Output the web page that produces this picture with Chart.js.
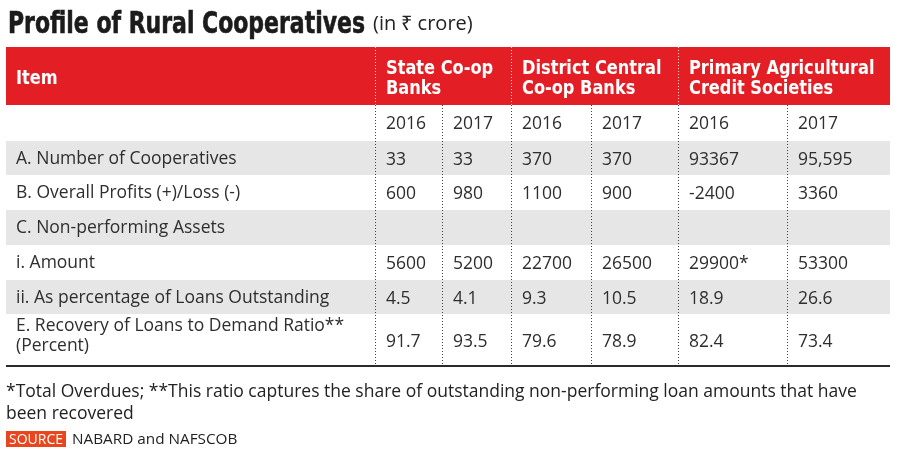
<!DOCTYPE html>
<html><head><meta charset="utf-8">
<script src="https://cdn.jsdelivr.net/npm/chart.js@4.4.1/dist/chart.umd.min.js"></script>
<style>
html,body{margin:0;padding:0;background:#fff;width:900px;height:451px;overflow:hidden;}
#wrap{position:relative;width:900px;height:451px;}
#c{position:absolute;left:0;top:0;width:900px;height:451px;}
#title{position:absolute;left:8px;top:5px;white-space:nowrap;color:#1b1b1b;display:inline-block;transform-origin:0 0;
  font-family:'Liberation Sans Narrow','DejaVu Sans Condensed',sans-serif;font-stretch:condensed;font-weight:bold;font-size:30px;line-height:36px;-webkit-text-stroke:0.6px #1b1b1b;}
#sub{position:absolute;left:373px;top:9px;font-family:'Open Sans',sans-serif;font-size:20px;line-height:28px;color:#222;white-space:nowrap;}
#notes{position:absolute;left:6px;top:379px;width:864px;font-family:'Open Sans',sans-serif;font-size:17.5px;line-height:22px;color:#222;}
#src{position:absolute;left:6px;top:430px;font-family:'Open Sans',sans-serif;font-size:15.3px;color:#222;white-space:nowrap;line-height:16px;}
#src i{font-style:normal;background:#e8461e;color:#fff;font-size:14px;padding:0 3px;margin-right:6px;display:inline-block;line-height:16px;}
</style></head>
<body><div id="wrap">
<canvas id="c" width="900" height="451"></canvas>
<div id="title">Profile of Rural Cooperatives</div>
<div id="sub">(in ₹ crore)</div>
<div id="notes">*Total Overdues; **This ratio captures the share of outstanding non-performing loan amounts that have been recovered</div>
<div id="src"><i>SOURCE</i>NABARD and NAFSCOB</div>
</div>
<script>
// ---- data ----
const headerItem = 'Item';
const groups = ['State Co-op\nBanks', 'District Central\nCo-op Banks', 'Primary Agricultural\nCredit Societies'];
const years = ['2016', '2017'];
const items = [
  'A. Number of Cooperatives',
  'B. Overall Profits (+)/Loss (-)',
  'C. Non-performing Assets',
  'i. Amount',
  'ii. As percentage of Loans Outstanding',
  'E. Recovery of Loans to Demand Ratio**\n(Percent)'
];
const stateCoop2016 = ['33', '600', '', '5600', '4.5', '91.7'];
const stateCoop2017 = ['33', '980', '', '5200', '4.1', '93.5'];
const dccb2016 = ['370', '1100', '', '22700', '9.3', '79.6'];
const dccb2017 = ['370', '900', '', '26500', '10.5', '78.9'];
const pacs2016 = ['93367', '-2400', '', '29900*', '18.9', '82.4'];
const pacs2017 = ['95,595', '3360', '', '53300', '26.6', '73.4'];
const valueColumns = [stateCoop2016, stateCoop2017, dccb2016, dccb2017, pacs2016, pacs2017];

// ---- layout (pixel grid of the table) ----
const colEdges = [6, 375, 442, 511, 591, 678, 787, 890];
const rowEdges = [47, 105, 141, 175, 210, 245, 280, 314, 366];
const RED = '#e31e24', GREY = '#e6e6e6', TXT = '#2e2e2e';
const bodyFont = "17.5px 'Open Sans', sans-serif";
const headFont = "bold 20px 'Liberation Sans Narrow', 'DejaVu Sans Condensed', sans-serif";
const headSqueeze = 0.9;

// fit title width
(function () {
  const t = document.getElementById('title');
  const w = t.getBoundingClientRect().width;
  t.style.transform = 'scaleX(' + (357 / w) + ')';
})();

const tablePlugin = {
  id: 'table',
  afterDraw(chart) {
    const {ctx, scales: {x, y}} = chart;
    const X = v => x.getPixelForValue(v), Y = v => y.getPixelForValue(v);
    const L = X(colEdges[0]), R = X(colEdges[colEdges.length - 1]);
    ctx.save();
    ctx.fillStyle = RED;
    ctx.fillRect(L, Y(rowEdges[0]), R - L, Y(rowEdges[1]) - Y(rowEdges[0]));
    ctx.fillStyle = GREY;
    [2, 4, 6].forEach(r => ctx.fillRect(L, Y(rowEdges[r]), R - L, Y(rowEdges[r + 1]) - Y(rowEdges[r])));
    ctx.lineWidth = 1;
    ctx.setLineDash([1, 2]);
    for (let c = 1; c < colEdges.length - 1; c++) {
      const px = Math.round(X(colEdges[c])) + 0.5;
      if (c % 2 === 1) {
        ctx.strokeStyle = 'rgba(255,255,255,0.85)';
        ctx.beginPath(); ctx.moveTo(px, Y(rowEdges[0])); ctx.lineTo(px, Y(rowEdges[1])); ctx.stroke();
      }
      ctx.strokeStyle = '#444';
      ctx.beginPath(); ctx.moveTo(px, Y(rowEdges[1])); ctx.lineTo(px, Y(rowEdges[8])); ctx.stroke();
    }
    ctx.setLineDash([]);
    ctx.strokeStyle = '#2a2a2a'; ctx.lineWidth = 2;
    ctx.beginPath(); ctx.moveTo(L, Y(rowEdges[8])); ctx.lineTo(R, Y(rowEdges[8])); ctx.stroke();

    // header text
    ctx.fillStyle = '#fff'; ctx.font = headFont; ctx.textBaseline = 'middle'; ctx.textAlign = 'left';
    const hMid = (Y(rowEdges[0]) + Y(rowEdges[1])) / 2;
    const squeezed = (t, px, py) => { ctx.save(); ctx.translate(px, py); ctx.scale(headSqueeze, 1); ctx.fillText(t, 0, 0); ctx.restore(); };
    squeezed(headerItem, X(colEdges[0]) + 10, hMid + 3);
    groups.forEach((g, i) => {
      g.split('\n').forEach((ln, k) => squeezed(ln, X(colEdges[1 + 2 * i]) + 11, hMid - 7 + k * 20));
    });
    // year row
    ctx.font = bodyFont; ctx.fillStyle = TXT;
    const yMid = (Y(rowEdges[1]) + Y(rowEdges[2])) / 2;
    for (let c = 0; c < 6; c++) ctx.fillText(years[c % 2], X(colEdges[c + 1]) + 11, yMid + 1);
    // body rows
    items.forEach((it, r) => {
      const mid = (Y(rowEdges[r + 2]) + Y(rowEdges[r + 3])) / 2;
      const lines = it.split('\n');
      if (lines.length === 1) ctx.fillText(lines[0], X(colEdges[0]) + 10, mid + 1);
      else lines.forEach((ln, k) => ctx.fillText(ln, X(colEdges[0]) + 10, mid - 14 + k * 20));
      valueColumns.forEach((col, c) => ctx.fillText(col[r], X(colEdges[c + 1]) + 11, mid + 2));
    });
    ctx.restore();
  }
};

new Chart(document.getElementById('c'), {
  type: 'scatter',
  data: {datasets: [{data: []}]},
  options: {
    responsive: false, animation: false, events: [],
    layout: {padding: 0},
    plugins: {legend: {display: false}, tooltip: {enabled: false}, title: {display: false}},
    scales: {
      x: {type: 'linear', min: 0, max: 900, display: false},
      y: {type: 'linear', min: 0, max: 451, reverse: true, display: false}
    }
  },
  plugins: [tablePlugin]
});
</script>
</body></html>
